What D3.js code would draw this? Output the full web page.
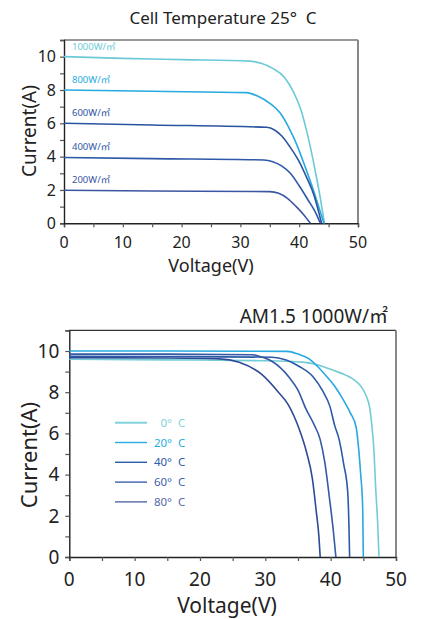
<!DOCTYPE html>
<html>
<head>
  <meta charset="utf-8">
  <title>I-V Curves</title>
  <style>
    body { margin: 0; background: #fff; }
    svg text { font-family: "Noto Sans", "Noto Sans CJK SC", sans-serif; fill: #222; }
    .tick-label { font-size: 16px; }
    .tick-label-big { font-size: 19px; }
    .curve { fill: none; stroke-width: 1.6px; }
  </style>
</head>
<body>
  <div id="chart"></div>

  <script src="https://d3js.org/d3.v7.min.js"></script>
  <script>
    // ---- data: irradiance chart (25 C) ----
    const irrLabels = ["1000W/㎡", "800W/㎡", "600W/㎡", "400W/㎡", "200W/㎡"];
    const irrColors = ["#6ccad6", "#27a9e1", "#2b54a0", "#2e58a8", "#3b56a2"];
    const irr1000 = [[0,10],[10,9.9],[20,9.82],[31.5,9.73],[33.5,9.6],[35.5,9.3],[37.5,8.75],[39,7.9],[40.3,6.8],[41.5,5.2],[42.7,3.2],[43.6,1.5],[44.3,0]];
    const irr800 = [[0,8],[15,7.92],[31,7.84],[33,7.62],[35,7.2],[36.8,6.6],[38.3,5.7],[39.5,4.8],[41,3.4],[42.5,1.9],[44.2,0]];
    const irr600 = [[0,6],[15,5.9],[34.5,5.76],[35.8,5.6],[37,5.25],[38.4,4.6],[40,3.7],[41.2,2.8],[42.5,1.7],[43.8,0]];
    const irr400 = [[0,3.95],[15,3.88],[34,3.8],[35.5,3.7],[37,3.45],[38.5,3.0],[40,2.25],[41.5,1.4],[42.7,0.7],[43.6,0]];
    const irr200 = [[0,1.98],[15,1.94],[35,1.9],[36.5,1.8],[38,1.5],[39.5,1.0],[40.8,0.5],[41.9,0]];
    const irrSeries = [irr1000, irr800, irr600, irr400, irr200];

    // ---- data: temperature chart (AM1.5 1000W/m2) ----
    const tempLabels = ["0", "20", "40", "60", "80"];
    const tempColors = ["#72ccd6", "#27a9e1", "#2d5aa8", "#3459a6", "#2f4b98"];
    const legendColors = ["#7fd2da", "#29abe2", "#2d5aa8", "#3c5fae", "#5566aa"];
    const temp0 = [[0,9.6],[15,9.57],[30,9.53],[36,9.45],[38.8,9.25],[40.5,9.05],[42.3,8.83],[43.6,8.6],[44.6,8.3],[45.4,7.85],[46,7.2],[46.3,6.4],[46.6,5.3],[46.9,3.3],[47.2,1.6],[47.4,0]];
    const temp20 = [[0,10],[15,10],[33.4,9.98],[35,9.85],[36.7,9.62],[38,9.25],[39.3,8.8],[40.6,8.3],[41.8,7.7],[43,7.0],[43.9,6.3],[44.3,5.2],[44.6,4.0],[44.9,2.4],[45,0]];
    const temp40 = [[0,9.74],[15,9.73],[31,9.7],[33.2,9.56],[35.2,9.25],[37.3,8.75],[38.8,8.05],[39.9,7.3],[40.6,6.4],[41.3,5.7],[42,4.5],[42.6,3.2],[42.8,1.5],[42.9,0]];
    const temp60 = [[0,9.85],[15,9.85],[28,9.82],[29.5,9.7],[31,9.5],[33.7,8.7],[35,8.1],[36.2,7.2],[37.5,6.4],[38.4,5.7],[39.1,4.6],[39.8,2.9],[40.4,1.3],[40.8,0]];
    const temp80 = [[0,9.68],[15,9.66],[23,9.62],[26,9.45],[29.5,8.85],[32,8.0],[33.5,7.4],[35.2,6.2],[36.3,5.1],[37.2,3.8],[37.8,2.2],[38.2,1.0],[38.4,0]];
    const tempSeries = [temp0, temp20, temp40, temp60, temp80];

    const xTicks = [0, 10, 20, 30, 40, 50];
    const xMinorTicks = [0, 5, 10, 15, 20, 25, 30, 35, 40, 45, 50];
    const yTicks = [0, 2, 4, 6, 8, 10];
    const yMinorTicks = [0, 1, 2, 3, 4, 5, 6, 7, 8, 9, 10, 11];

    const svg = d3.select("#chart")
      .append("svg")
      .attr("width", 425)
      .attr("height", 619);

    function drawFrame(g, x, y, fontClass, labelPad) {
      const [x0, x1] = x.range();
      const [y0, y1] = y.range();
      // top border + right border
      g.append("line").attr("x1", x0).attr("x2", x1).attr("y1", y1).attr("y2", y1)
        .attr("stroke", "#333").attr("stroke-width", 1.2);
      g.append("line").attr("x1", x1).attr("x2", x1).attr("y1", y1).attr("y2", y0)
        .attr("stroke", "#888").attr("stroke-width", 2);

      // tick marks (labels drawn separately)
      g.append("g").attr("transform", `translate(0,${y0})`)
        .call(d3.axisBottom(x).tickValues(xMinorTicks).tickSize(4).tickFormat(""))
        .call(a => a.selectAll("line").attr("stroke", "#555").attr("stroke-width", 1.2))
        .call(a => a.select(".domain").attr("stroke", "#222").attr("stroke-width", 1.4));
      g.append("g").attr("transform", `translate(${x0},0)`)
        .call(d3.axisLeft(y).tickValues(yMinorTicks).tickSize(4).tickFormat(""))
        .call(a => a.selectAll("line").attr("stroke", "#555").attr("stroke-width", 1.2))
        .call(a => a.select(".domain").attr("stroke", "#222").attr("stroke-width", 1.4));

      g.selectAll(".xl").data(xTicks).enter().append("text")
        .attr("class", fontClass)
        .attr("x", d => x(d))
        .attr("y", y0 + labelPad.x)
        .attr("text-anchor", "middle")
        .text(d => d);
      g.selectAll(".yl").data(yTicks).enter().append("text")
        .attr("class", fontClass)
        .attr("x", x0 - labelPad.y)
        .attr("y", d => y(d))
        .attr("dy", "0.36em")
        .attr("text-anchor", "end")
        .text(d => d);
    }

    const line = (x, y) => d3.line()
      .x(d => x(d[0]))
      .y(d => y(d[1]))
      .curve(d3.curveMonotoneX);

    // ================= top chart =================
    const x1 = d3.scaleLinear().domain([0, 50]).range([64, 358]);
    const y1 = d3.scaleLinear().domain([0, 11]).range([223.3, 40]);
    const g1 = svg.append("g");

    g1.append("text")
      .attr("x", 223).attr("y", 24)
      .attr("text-anchor", "middle")
      .attr("font-size", 17)
      .style("white-space", "pre")
      .text("Cell Temperature 25°  C");

    drawFrame(g1, x1, y1, "tick-label", { x: 25, y: 8 });

    irrSeries.forEach((s, i) => {
      g1.append("path")
        .attr("class", "curve")
        .attr("stroke", irrColors[i])
        .attr("d", line(x1, y1)(s));
      g1.append("text")
        .attr("x", x1(0) + 8)
        .attr("y", y1(s[0][1]) - 7)
        .attr("font-size", 9.5)
        .style("fill", irrColors[i])
        .text(irrLabels[i]);
    });

    g1.append("text")
      .attr("transform", "translate(36,131) rotate(-90)")
      .attr("text-anchor", "middle")
      .attr("font-size", 19)
      .text("Current(A)");
    g1.append("text")
      .attr("x", 211).attr("y", 272)
      .attr("text-anchor", "middle")
      .attr("font-size", 18)
      .text("Voltage(V)");

    // ================= bottom chart =================
    const x2 = d3.scaleLinear().domain([0, 50]).range([69.3, 396]);
    const y2 = d3.scaleLinear().domain([0, 11]).range([557, 330.4]);
    const g2 = svg.append("g");

    g2.append("text")
      .attr("x", 388).attr("y", 323)
      .attr("text-anchor", "end")
      .attr("font-size", 19)
      .text("AM1.5 1000W/㎡");

    drawFrame(g2, x2, y2, "tick-label-big", { x: 29, y: 10 });

    tempSeries.forEach((s, i) => {
      g2.append("path")
        .attr("class", "curve")
        .attr("stroke", tempColors[i])
        .attr("d", line(x2, y2)(s));
    });

    // legend
    const legend = g2.append("g").attr("transform", "translate(115,422.7)");
    tempLabels.forEach((t, i) => {
      const row = legend.append("g").attr("transform", `translate(0,${i * 19.8})`);
      row.append("line").attr("x1", 0).attr("x2", 32).attr("y1", 0).attr("y2", 0)
        .attr("stroke", legendColors[i]).attr("stroke-width", i === 0 ? 2 : 1.4);
      row.append("text").attr("x", 57).attr("y", 0).attr("dy", "0.36em")
        .attr("text-anchor", "end").attr("font-size", 11.5)
        .style("fill", legendColors[i]).text(t + "°");
      row.append("text").attr("x", 63).attr("y", 0).attr("dy", "0.36em")
        .attr("font-size", 11.5)
        .style("fill", legendColors[i]).text("C");
    });

    g2.append("text")
      .attr("transform", "translate(37,455) rotate(-90)")
      .attr("text-anchor", "middle")
      .attr("font-size", 22)
      .text("Current(A)");
    g2.append("text")
      .attr("x", 227).attr("y", 613)
      .attr("text-anchor", "middle")
      .attr("font-size", 21)
      .text("Voltage(V)");
  </script>
</body>
</html>
